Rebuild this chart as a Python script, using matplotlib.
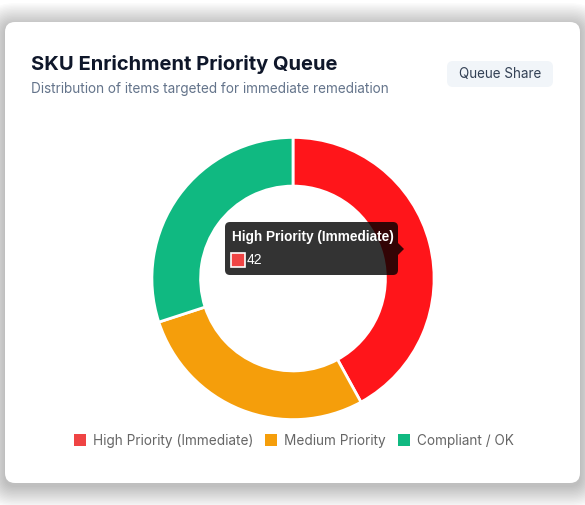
import matplotlib.pyplot as plt
from matplotlib.patches import FancyBboxPatch, Rectangle, Polygon

# Data
labels = ["High Priority (Immediate)", "Medium Priority", "Compliant / OK"]
values = [42, 28, 30]
colors = ["#ef4444", "#f59e0b", "#10b981"]
hover_red = "#ff151a"

W, H = 585, 505
fig = plt.figure(figsize=(W / 100, H / 100), dpi=100)
fig.patch.set_facecolor("white")

# background axes in pixel coords (y down)
bg = fig.add_axes([0, 0, 1, 1])
bg.set_xlim(0, W)
bg.set_ylim(H, 0)
bg.axis("off")

# soft card shadow
for i in range(16):
    pad = 1 + i * 1.4
    bg.add_patch(FancyBboxPatch((5 - pad, 22 - pad + 3), 575 + 2 * pad, 461 + 2 * pad,
                                boxstyle="round,pad=0,rounding_size=%f" % (10 + pad),
                                fc="black", ec="none", alpha=0.016, zorder=1))
bg.add_patch(FancyBboxPatch((5, 22), 575, 461, boxstyle="round,pad=0,rounding_size=10",
                            fc="white", ec="none", zorder=2))

# header
bg.text(31, 65, "SKU Enrichment Priority Queue", fontsize=14.5, fontweight="bold",
        family="Inter", color="#0f172a", va="center", zorder=3)
bg.text(31, 89, "Distribution of items targeted for immediate remediation", fontsize=9.75,
        family="Inter", color="#64748b", va="center", zorder=3)
bg.add_patch(FancyBboxPatch((447, 61), 106, 26, boxstyle="round,pad=0,rounding_size=6",
                            fc="#f1f5f9", ec="none", zorder=3))
bg.text(500, 74, "Queue Share", fontsize=9.7, family="Inter", color="#334155",
        ha="center", va="center", zorder=4)

# legend
leg_x = [74, 265, 398]
for x, lab, c in zip(leg_x, labels, colors):
    bg.add_patch(Rectangle((x, 434), 12, 12, fc=c, ec="none", zorder=3))
    bg.text(x + 19, 440.5, lab, fontsize=9.8, family="Inter", color="#666666",
            va="center", zorder=3)

# donut
cx, cy, r = 293, 278.5, 142.5
pax = fig.add_axes([(cx - r) / W, (H - cy - r) / H, 2 * r / W, 2 * r / H])
pie_colors = [hover_red] + colors[1:]
pax.pie(values, colors=pie_colors, startangle=90, counterclock=False, radius=1,
        wedgeprops=dict(width=0.345, edgecolor="white", linewidth=2))
pax.set_xlim(-1.01, 1.01)
pax.set_ylim(-1.01, 1.01)
pax.set_aspect("equal")
pax.axis("off")

# tooltip overlay
top = fig.add_axes([0, 0, 1, 1])
top.set_xlim(0, W)
top.set_ylim(H, 0)
top.axis("off")
top.patch.set_alpha(0)
top.add_patch(FancyBboxPatch((225, 222), 173, 53, boxstyle="round,pad=0,rounding_size=5",
                             fc="black", ec="none", alpha=0.8, zorder=5))
top.add_patch(Polygon([(398, 243), (404, 249), (398, 255)], closed=True,
                      fc="black", ec="none", alpha=0.8, zorder=5))
top.text(232, 237, "High Priority (Immediate)", fontsize=9.8, fontweight="bold",
         family="Liberation Sans", color="white", va="center", zorder=6)
top.add_patch(Rectangle((231, 253), 14, 14, fc=colors[0], ec="white", lw=1.2, zorder=6))
top.text(247, 260, str(values[0]), fontsize=10, family="Liberation Sans",
         color="white", va="center", zorder=6)

fig.savefig("out.png", dpi=100)
